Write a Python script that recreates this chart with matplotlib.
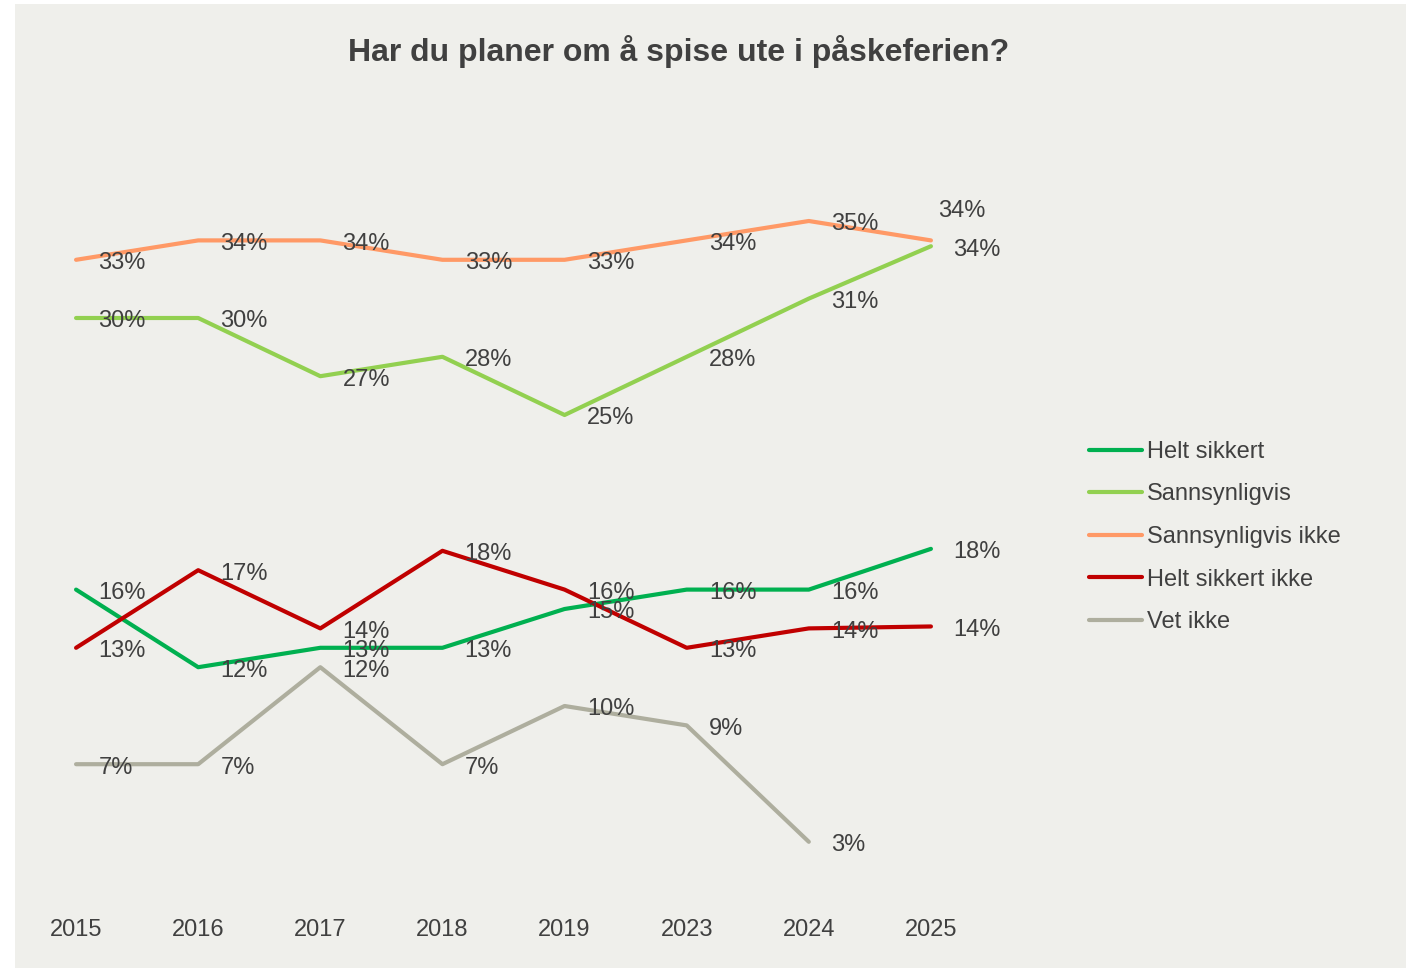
import matplotlib
matplotlib.use('Agg')
import matplotlib.pyplot as plt
import matplotlib.patches as mpatches
import numpy as np

plt.rcParams.update({
    'font.family': ['Liberation Sans', 'DejaVu Sans'],
    'font.size': 17,
    'text.color': '#404040',
})

# --- data ---
years = ['2015', '2016', '2017', '2018', '2019', '2023', '2024', '2025']
helt_sikkert = [16, 12, 13, 13, 15, 16, 16, 18.1]
sannsynligvis = [30, 30, 27, 28, 25, 28, 31, 33.7]
sannsynligvis_ikke = [33, 34, 34, 33, 33, 34, 35, 34]
helt_sikkert_ikke = [13, 17, 14, 18, 16, 13, 14, 14.1]
vet_ikke = [7, 7, 12, 7, 10, 9, 3, np.nan]

label_hs = ['16%', '12%', '13%', '13%', '15%', '16%', '16%', '18%']
label_s = ['30%', '30%', '27%', '28%', '25%', '28%', '31%', '34%']
label_si = ['33%', '34%', '34%', '33%', '33%', '34%', '35%', '34%']
label_hsi = ['13%', '17%', '14%', '18%', '16%', '13%', '14%', '14%']
label_vi = ['7%', '7%', '12%', '7%', '10%', '9%', '3%', '']

series = [
    ('Helt sikkert', helt_sikkert, label_hs, '#00B050'),
    ('Sannsynligvis', sannsynligvis, label_s, '#92D050'),
    ('Sannsynligvis ikke', sannsynligvis_ikke, label_si, '#FF9966'),
    ('Helt sikkert ikke', helt_sikkert_ikke, label_hsi, '#C00000'),
    ('Vet ikke', vet_ikke, label_vi, '#AEAE9E'),
]

BG = '#EFEFEB'
W, H = 1414, 969
fig = plt.figure(figsize=(W / 100, H / 100), dpi=100, facecolor='white')
fig.patches.append(mpatches.Rectangle((15 / W, 1 / H), 1391 / W, 964 / H,
                                      transform=fig.transFigure, facecolor=BG,
                                      edgecolor='none', zorder=-10))

ax = fig.add_axes([15 / W, 69 / H, 977 / W, 776 / H])
ax.set_facecolor('none')

x = np.arange(len(years))
for name, vals, labels, col in series:
    ax.plot(x, vals, color=col, lw=3, label=name, solid_capstyle='round')
    for i, (v, lab) in enumerate(zip(vals, labels)):
        if not lab:
            continue
        if name == 'Sannsynligvis ikke' and i == len(years) - 1:
            ax.annotate(lab, (i, v), xytext=(5, 21), textcoords='offset points',
                        ha='left', va='center', fontsize=17)
        else:
            ax.annotate(lab, (i, v), xytext=(16, -2.5), textcoords='offset points',
                        ha='left', va='center', fontsize=17)

ax.set_xlim(-0.5, 7.5)
ax.set_ylim(0, 40)
ax.set_xticks(x)
ax.set_xticklabels(years)
ax.tick_params(axis='x', length=0, pad=14, labelsize=17, labelcolor='#404040')
ax.set_yticks([])
for s in ax.spines.values():
    s.set_visible(False)

fig.text(0.48, 0.947, 'Har du planer om å spise ute i påskeferien?',
         ha='center', va='center', fontsize=23, fontweight='bold', color='#404040')

leg = fig.legend(loc='center left', bbox_to_anchor=(1068 / W, 1 - 537 / H),
                 frameon=False, fontsize=17, handlelength=2.25, handletextpad=0.2,
                 labelspacing=0.87)
for t in leg.get_texts():
    t.set_color('#404040')

fig.savefig('out.png', dpi=100, facecolor='white')
